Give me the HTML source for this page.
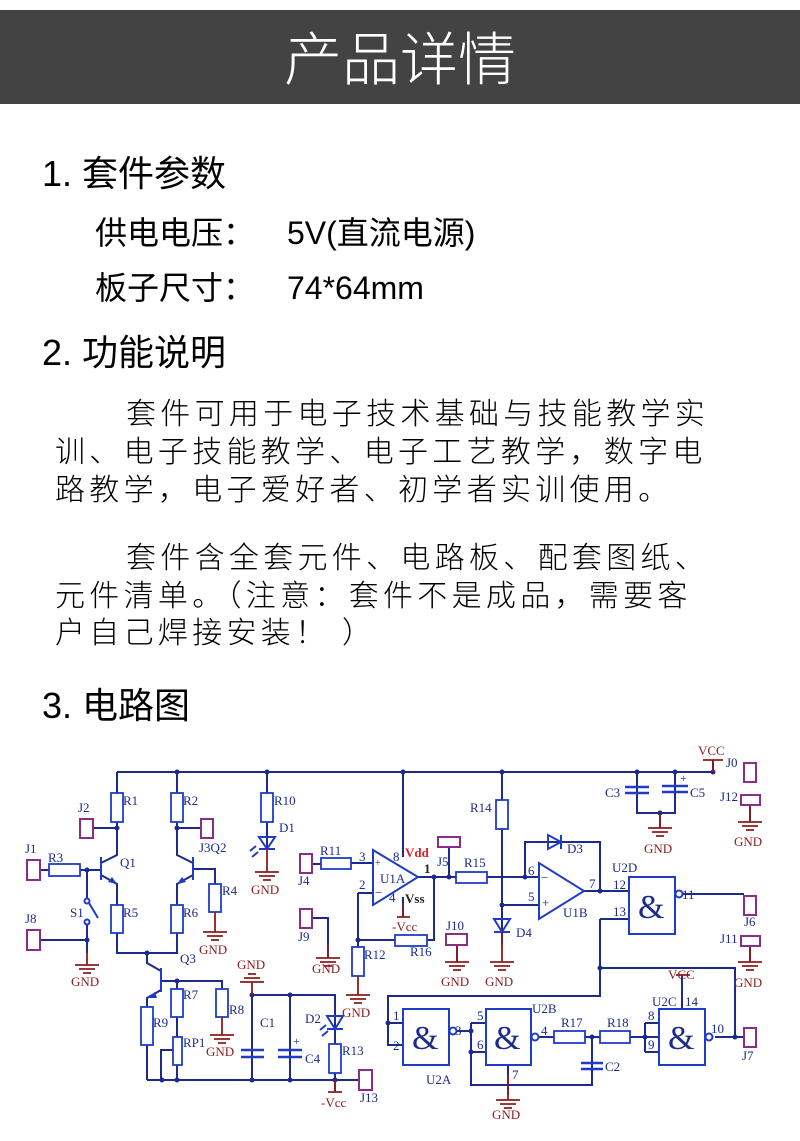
<!DOCTYPE html>
<html><head><meta charset="utf-8"><style>
html,body{margin:0;padding:0;background:#fff}
svg{display:block}
.cj{font-family:"Liberation Sans","Noto Sans CJK SC",sans-serif}
.w{stroke:#1c2a8c;stroke-width:2;fill:none}
.c{stroke:#1e3cc8;stroke-width:1.8;fill:#fff}
.cb{stroke:#1e3cc8;stroke-width:2;fill:none}
.g{stroke:#8b1c1c;stroke-width:1.8;fill:none}
.j{stroke:#8a2d8a;stroke-width:2;fill:#fff}
.l{font-family:"Liberation Serif",serif;font-size:13px;fill:#1c2a8c}
.gt{font-family:"Liberation Serif",serif;font-size:13px;fill:#8b1c1c}
.amp{font-family:"Liberation Serif",serif;font-size:34px;fill:#1c2a8c}
</style></head><body>
<svg width="800" height="1141" viewBox="0 0 800 1141" xmlns="http://www.w3.org/2000/svg">
<rect x="0" y="10" width="800" height="94" fill="#434343"/>
<text x="400" y="80" text-anchor="middle" fill="#fff" class="cj" font-size="58" font-weight="300">产品详情</text>

<g class="cj" fill="#000">
<text x="42" y="186" font-size="36">1. 套件参数</text>
<text x="95" y="244" font-size="32">供电电压：</text>
<text x="287" y="244" font-size="32">5V(直流电源)</text>
<text x="95" y="299" font-size="32">板子尺寸：</text>
<text x="287" y="299" font-size="32">74*64mm</text>
<text x="42" y="365" font-size="36">2. 功能说明</text>
<g font-size="30" letter-spacing="4.3" font-weight="300">
<text x="126" y="424">套件可用于电子技术基础与技能教学实</text>
<text x="55" y="462">训、电子技能教学、电子工艺教学，数字电</text>
<text x="55" y="500">路教学，电子爱好者、初学者实训使用。</text>
<text x="126" y="568">套件含全套元件、电路板、配套图纸、</text>
<text x="55" y="606">元件清单。（注意：套件不是成品，需要客</text>
<text x="55" y="643">户自己焊接安装！ ）</text>
</g>
<text x="42" y="718" font-size="36">3. 电路图</text>
</g>

<g class="w">
<path d="M117 772H713"/>
<path d="M117 772V828M177 772V828M267 772V848"/>
<path d="M93 828H117M177 828H201"/>
<path d="M117 828V855L101 863M101 875L117 884V953H177V884L193 875M193 863L177 855V828"/>
<path d="M40 870H87V900M87 922V953M40 940H87M87 870H101M193 869H215V912"/>
<path d="M147 953V963L161 971M161 990L147 998V1080M161 981H222V1017M177 981V1080"/>
<path d="M147 1080H359M161 1080V1050H173"/>
<path d="M252 995V1080M252 995H335V1080M290 995V1080M335 1080V1092"/>
<path d="M312 864H321M351 863H373M358 893H373M358 893V976M358 940H395M427 940H434V877M418 877H456M449 877V847M403 772V857M403 897V917"/>
<path d="M312 918H328V958"/>
<path d="M487 877H539M525 877V842H600V891M584 891H629M502 772V945M502 905H539"/>
<path d="M600 919H629M600 919V996H388V1045H403M388 1023H403M600 968H735V1037M683 894H744M715 1037H744"/>
<path d="M453 1031H471M471 1023V1085H592V1037M471 1023H486M471 1052H486M508 1065V1095M539 1037H554M585 1037H600M630 1037H659M645 1023V1052M645 1023H659M645 1052H659M682 1009V975"/>
<path d="M637 772V813H675V772M660 813V828M713 772V760M750 805V822M750 946V962M457 945V962"/>
</g>
<g fill="#1c2a8c">
<circle cx="177" cy="772" r="2.5"/><circle cx="267" cy="772" r="2.5"/><circle cx="403" cy="772" r="2.5"/><circle cx="502" cy="772" r="2.5"/><circle cx="637" cy="772" r="2.5"/><circle cx="675" cy="772" r="2.5"/><circle cx="713" cy="772" r="2.5"/>
<circle cx="117" cy="828" r="2.5"/><circle cx="177" cy="828" r="2.5"/><circle cx="87" cy="870" r="2.5"/><circle cx="87" cy="940" r="2.5"/><circle cx="147" cy="953" r="2.5"/><circle cx="177" cy="981" r="2.5"/>
<circle cx="162" cy="1080" r="2.5"/><circle cx="177" cy="1080" r="2.5"/><circle cx="252" cy="1080" r="2.5"/><circle cx="290" cy="1080" r="2.5"/><circle cx="335" cy="1080" r="2.5"/><circle cx="252" cy="995" r="2.5"/><circle cx="290" cy="995" r="2.5"/>
<circle cx="358" cy="940" r="2.5"/><circle cx="434" cy="877" r="2.5"/><circle cx="449" cy="877" r="2.5"/><circle cx="525" cy="877" r="2.5"/><circle cx="502" cy="905" r="2.5"/><circle cx="600" cy="891" r="2.5"/><circle cx="600" cy="968" r="2.5"/><circle cx="660" cy="813" r="2.5"/>
<circle cx="388" cy="1023" r="2.5"/><circle cx="471" cy="1031" r="2.5"/><circle cx="471" cy="1052" r="2.5"/><circle cx="592" cy="1037" r="2.5"/><circle cx="645" cy="1037" r="2.5"/><circle cx="735" cy="1037" r="2.5"/>
</g>
<g class="c">
<rect x="111" y="793" width="12" height="29"/><rect x="171" y="793" width="12" height="29"/><rect x="261" y="793" width="12" height="29"/>
<rect x="49" y="864" width="31" height="12"/><rect x="111" y="905" width="12" height="28"/><rect x="171" y="905" width="12" height="28"/><rect x="209" y="884" width="12" height="28"/>
<rect x="141" y="1007" width="12" height="38"/><rect x="171" y="989" width="12" height="28"/><rect x="216" y="989" width="12" height="28"/><rect x="173" y="1037" width="9" height="28"/><rect x="329" y="1044" width="12" height="29"/>
<rect x="321" y="858" width="30" height="11"/><rect x="395" y="935" width="32" height="11"/><rect x="352" y="947" width="12" height="29"/>
<rect x="456" y="872" width="31" height="11"/><rect x="496" y="800" width="12" height="29"/>
<rect x="554" y="1031" width="31" height="12"/><rect x="600" y="1031" width="30" height="12"/>
</g>
<g class="cb"><path d="M101 857V880M193 857V880M161 968V992"/></g>
<g fill="#1e3cc8"><path d="M117 884l-9-2 4-5z"/><path d="M177 884l9-2-4-5z"/><path d="M147 998l8-6 2 6z"/></g>
<g class="cb"><circle cx="87" cy="901" r="2.5" fill="#fff"/><circle cx="87" cy="922" r="2.5" fill="#fff"/><path d="M89 903L98 918"/></g>
<g class="cb">
<path d="M259 837H275L267 849ZM259 849H275"/><path d="M327 1016H343L335 1029ZM327 1029H343"/>
<path d="M494 919H510L502 932ZM494 932H510"/><path d="M548 835V849L561 842ZM561 835V849"/>
<path d="M256 846l-6 5M258 852l-6 5M326 1025l-6 5M328 1031l-6 5"/>
</g>
<g stroke="#1e3cc8" stroke-width="2.4" fill="none">
<path d="M241 1050H264M241 1057H264M278 1050H302M278 1057H302M625 787H649M625 793H649M662 786H688M662 792H688M581 1063H603M581 1069H603"/>
</g>
<g class="w"><path d="M592 1069V1085"/></g>
<g class="l"><text x="293" y="1045" font-size="12">+</text><text x="680" y="782" font-size="12">+</text></g>
<g class="cb"><path d="M373 850V905L418 877Z"/><path d="M539 863V919L584 891Z"/></g>
<g class="cb">
<rect x="629" y="877" width="46" height="57"/><rect x="403" y="1009" width="46" height="56"/><rect x="486" y="1009" width="45" height="56"/><rect x="659" y="1009" width="46" height="56"/>
<circle cx="679" cy="894" r="3.5" fill="#fff"/><circle cx="453" cy="1031" r="3.5" fill="#fff"/><circle cx="535" cy="1037" r="3.5" fill="#fff"/><circle cx="709" cy="1037" r="3.5" fill="#fff"/>
</g>
<g class="amp"><text x="638" y="918">&amp;</text><text x="412" y="1049">&amp;</text><text x="494" y="1049">&amp;</text><text x="668" y="1049">&amp;</text></g>
<g class="g">
<path d="M87 953V965M75 965H99M79 969H95M83 973H91"/>
<path d="M215 912V932M203 932H227M207 936H223M211 940H219"/>
<path d="M267 848V872M255 872H279M259 876H275M263 880H271"/>
<path d="M222 1017V1035M210 1035H234M214 1039H230M218 1043H226"/>
<path d="M252 995V982M240 982H264M244 978H260M248 974H256"/>
<path d="M328 945V958M316 958H340M320 962H336M324 966H332"/>
<path d="M358 976V995M346 995H370M350 999H366M354 1003H362"/>
<path d="M457 945V962M445 962H469M449 966H465M453 970H461"/>
<path d="M502 932V962M490 962H514M494 966H510M498 970H506"/>
<path d="M660 813V828M648 828H672M652 832H668M656 836H664"/>
<path d="M750 805V822M738 822H762M742 826H758M746 830H754"/>
<path d="M750 946V962M738 962H762M742 966H758M746 970H754"/>
<path d="M508 1075V1100M496 1100H520M500 1104H516M504 1108H512"/>
<path d="M713 772V760M703 760H723M676 975H690M335 1080V1092M328 1092H342M403 905V917M397 917H410"/>
</g>
<g class="gt">
<text x="71" y="986">GND</text><text x="199" y="954">GND</text><text x="251" y="894">GND</text><text x="206" y="1056">GND</text><text x="237" y="969">GND</text>
<text x="312" y="973">GND</text><text x="342" y="1017">GND</text><text x="441" y="986">GND</text><text x="485" y="986">GND</text><text x="644" y="853">GND</text>
<text x="734" y="846">GND</text><text x="734" y="987">GND</text><text x="492" y="1119">GND</text>
<text x="698" y="755">VCC</text><text x="668" y="979">VCC</text><text x="321" y="1107">-Vcc</text><text x="392" y="931">-Vcc</text>
</g>
<g class="j">
<rect x="80" y="819" width="13" height="19"/><rect x="201" y="819" width="12" height="19"/><rect x="27" y="860" width="13" height="20"/><rect x="27" y="930" width="13" height="20"/>
<rect x="300" y="854" width="12" height="19"/><rect x="300" y="909" width="12" height="19"/><rect x="359" y="1070" width="13" height="20"/>
<rect x="438" y="837" width="22" height="10"/><rect x="446" y="934" width="21" height="11"/>
<rect x="744" y="763" width="12" height="19"/><rect x="741" y="795" width="19" height="10"/><rect x="744" y="896" width="12" height="19"/><rect x="741" y="936" width="19" height="10"/><rect x="744" y="1028" width="12" height="19"/>
</g>
<g class="l">
<text x="123" y="805">R1</text><text x="183" y="805">R2</text><text x="274" y="805">R10</text><text x="279" y="832">D1</text>
<text x="78" y="812">J2</text><text x="199" y="852">J3Q2</text><text x="25" y="853">J1</text><text x="48" y="862">R3</text><text x="120" y="867">Q1</text>
<text x="70" y="917">S1</text><text x="25" y="923">J8</text><text x="123" y="917">R5</text><text x="183" y="917">R6</text><text x="222" y="895">R4</text><text x="180" y="963">Q3</text>
<text x="183" y="999">R7</text><text x="229" y="1014">R8</text><text x="153" y="1027">R9</text><text x="183" y="1047">RP1</text><text x="260" y="1027">C1</text><text x="305" y="1063">C4</text><text x="305" y="1023">D2</text><text x="342" y="1055">R13</text><text x="360" y="1102">J13</text>
<text x="320" y="855">R11</text><text x="359" y="861">3</text><text x="359" y="889">2</text><text x="375" y="866" font-size="10">+</text><text x="375" y="897">−</text><text x="380" y="883">U1A</text><text x="393" y="861">8</text><text x="389" y="902">4</text>
<text x="298" y="885">J4</text><text x="298" y="941">J9</text><text x="364" y="959">R12</text><text x="410" y="956">R16</text>
<text x="405" y="857" fill="#e02020" font-weight="bold">Vdd</text><text x="405" y="903" font-weight="bold" fill="#222">Vss</text><text x="424" y="873" font-weight="bold" fill="#222">1</text>
<text x="437" y="866">J5</text><text x="464" y="867">R15</text><text x="470" y="812">R14</text><text x="567" y="853">D3</text><text x="516" y="937">D4</text><text x="446" y="930">J10</text>
<text x="528" y="875">6</text><text x="528" y="901">5</text><text x="541" y="882" font-size="13">−</text><text x="542" y="907">+</text><text x="563" y="917">U1B</text><text x="589" y="888">7</text>
<text x="612" y="872">U2D</text><text x="613" y="889">12</text><text x="613" y="916">13</text><text x="682" y="899">11</text><text x="744" y="926">J6</text><text x="720" y="943">J11</text>
<text x="605" y="797">C3</text><text x="690" y="797">C5</text><text x="726" y="767">J0</text><text x="720" y="801">J12</text>
<text x="393" y="1020">1</text><text x="393" y="1050">2</text><text x="455" y="1035">3</text><text x="426" y="1084">U2A</text>
<text x="477" y="1020">5</text><text x="477" y="1049">6</text><text x="532" y="1013">U2B</text><text x="541" y="1035">4</text><text x="512" y="1079">7</text>
<text x="561" y="1027">R17</text><text x="607" y="1027">R18</text><text x="605" y="1071">C2</text>
<text x="648" y="1020">8</text><text x="648" y="1049">9</text><text x="652" y="1006">U2C</text><text x="685" y="1006">14</text><text x="711" y="1033">10</text><text x="742" y="1060">J7</text>
</g>
</svg>
</body></html>
